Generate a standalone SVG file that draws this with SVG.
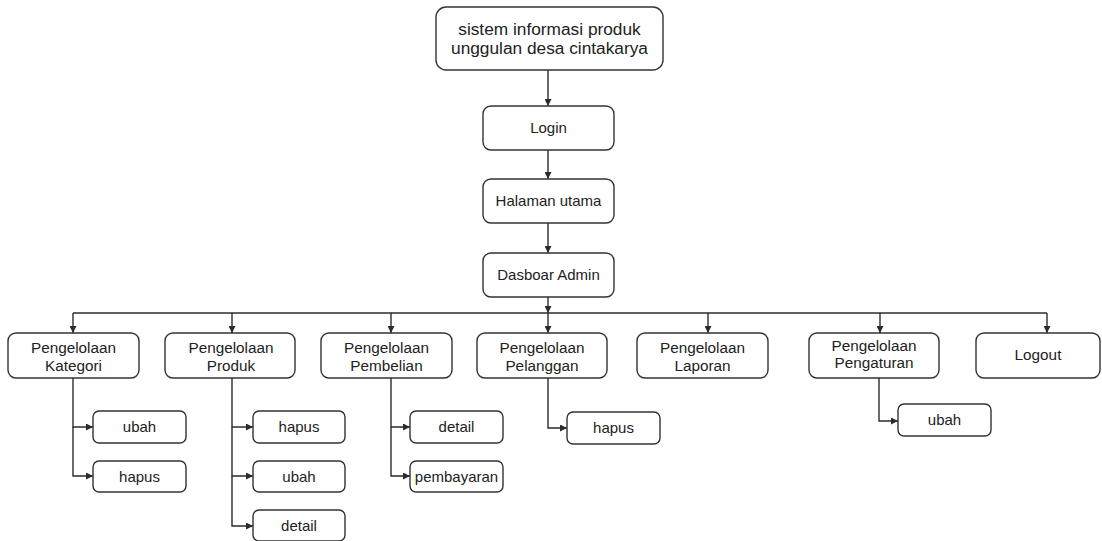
<svg xmlns="http://www.w3.org/2000/svg" width="1102" height="541" viewBox="0 0 1102 541">
  <defs>
    <marker id="arrow" viewBox="0 0 10 10" refX="10" refY="5" markerWidth="7" markerHeight="7" markerUnits="userSpaceOnUse" orient="auto">
      <path d="M0,0 L10,5 L0,10 z" fill="#2b2b2b"/>
    </marker>
    <style>
      .box { fill: #ffffff; stroke: #333333; stroke-width: 1.4; }
      .lbl { font-family: "Liberation Sans", Arial, sans-serif; font-size: 15px; fill: #222222; text-anchor: middle; }
      .big { font-size: 17.3px; }
      .mid { font-size: 15.3px; }
      .edge { fill: none; stroke: #2b2b2b; stroke-width: 1.4; marker-end: url(#arrow); }
    </style>
  </defs>
  <rect width="1102" height="541" fill="#ffffff"/>

  <!-- connectors -->
  <g id="connectors">
    <path class="edge" d="M548,70 V106"/>
    <path class="edge" d="M548,150 V179"/>
    <path class="edge" d="M548,223 V253"/>
    <path class="edge" d="M548,297 V313"/>
    <path fill="none" stroke="#2b2b2b" stroke-width="1.4" d="M73,313 H1047"/>
    <path class="edge" d="M73,313 V333"/>
    <path class="edge" d="M232,313 V333"/>
    <path class="edge" d="M391,313 V333"/>
    <path class="edge" d="M548,313 V333"/>
    <path class="edge" d="M708,313 V333"/>
    <path class="edge" d="M880,313 V333"/>
    <path class="edge" d="M1047,313 V333"/>
    <!-- Kategori children -->
    <path class="edge" d="M73,378 V427 H93"/>
    <path class="edge" d="M73,427 V476 H93"/>
    <!-- Produk children -->
    <path class="edge" d="M232,378 V427 H253"/>
    <path class="edge" d="M232,427 V476 H253"/>
    <path class="edge" d="M232,476 V526 H253"/>
    <!-- Pembelian children -->
    <path class="edge" d="M391,378 V427 H410"/>
    <path class="edge" d="M391,427 V476 H410"/>
    <!-- Pelanggan child -->
    <path class="edge" d="M548,378 V428 H567"/>
    <!-- Pengaturan child -->
    <path class="edge" d="M879,378 V421 H898"/>
  </g>

  <g id="root">
    <rect class="box" x="436" y="7" width="227" height="63" rx="10"/>
    <text class="lbl big" x="549.5" y="34.5">sistem informasi produk</text>
    <text class="lbl big" x="549.5" y="53.5">unggulan desa cintakarya</text>
  </g>
  <g id="login">
    <rect class="box" x="483" y="106" width="131" height="44" rx="8"/>
    <text class="lbl" x="548.5" y="133">Login</text>
  </g>
  <g id="halaman-utama">
    <rect class="box" x="483" y="179" width="131" height="44" rx="8"/>
    <text class="lbl" x="548.5" y="206">Halaman utama</text>
  </g>
  <g id="dasboar-admin">
    <rect class="box" x="483" y="253" width="131" height="44" rx="8"/>
    <text class="lbl" x="548.5" y="280">Dasboar Admin</text>
  </g>

  <g id="kategori">
    <rect class="box" x="8" y="333" width="131" height="45" rx="8"/>
    <text class="lbl mid" x="73.5" y="353">Pengelolaan</text>
    <text class="lbl mid" x="73.5" y="371">Kategori</text>
  </g>
  <g id="produk">
    <rect class="box" x="165" y="333" width="130" height="45" rx="8"/>
    <text class="lbl mid" x="231" y="353">Pengelolaan</text>
    <text class="lbl mid" x="231" y="371">Produk</text>
  </g>
  <g id="pembelian">
    <rect class="box" x="321" y="333" width="131" height="45" rx="8"/>
    <text class="lbl mid" x="386.5" y="353">Pengelolaan</text>
    <text class="lbl mid" x="386.5" y="371">Pembelian</text>
  </g>
  <g id="pelanggan">
    <rect class="box" x="477" y="333" width="130" height="45" rx="8"/>
    <text class="lbl mid" x="542" y="353">Pengelolaan</text>
    <text class="lbl mid" x="542" y="371">Pelanggan</text>
  </g>
  <g id="laporan">
    <rect class="box" x="637" y="333" width="131" height="45" rx="8"/>
    <text class="lbl mid" x="702.5" y="353">Pengelolaan</text>
    <text class="lbl mid" x="702.5" y="371">Laporan</text>
  </g>
  <g id="pengaturan">
    <rect class="box" x="809" y="333" width="130" height="45" rx="8"/>
    <text class="lbl mid" x="874" y="351">Pengelolaan</text>
    <text class="lbl mid" x="874" y="368">Pengaturan</text>
  </g>
  <g id="logout">
    <rect class="box" x="976" y="333" width="124" height="45" rx="8"/>
    <text class="lbl mid" x="1038" y="360">Logout</text>
  </g>

  <g id="kategori-ubah">
    <rect class="box" x="93" y="411" width="93" height="32" rx="6"/>
    <text class="lbl" x="139.5" y="432">ubah</text>
  </g>
  <g id="kategori-hapus">
    <rect class="box" x="93" y="461" width="93" height="31" rx="6"/>
    <text class="lbl" x="139.5" y="482">hapus</text>
  </g>
  <g id="produk-hapus">
    <rect class="box" x="253" y="411" width="92" height="32" rx="6"/>
    <text class="lbl" x="299" y="432">hapus</text>
  </g>
  <g id="produk-ubah">
    <rect class="box" x="253" y="461" width="92" height="31" rx="6"/>
    <text class="lbl" x="299" y="482">ubah</text>
  </g>
  <g id="produk-detail">
    <rect class="box" x="253" y="510" width="92" height="31" rx="6"/>
    <text class="lbl" x="299" y="531">detail</text>
  </g>
  <g id="pembelian-detail">
    <rect class="box" x="410" y="411" width="93" height="32" rx="6"/>
    <text class="lbl" x="456.5" y="432">detail</text>
  </g>
  <g id="pembelian-pembayaran">
    <rect class="box" x="410" y="461" width="93" height="31" rx="6"/>
    <text class="lbl" x="456.5" y="482">pembayaran</text>
  </g>
  <g id="pelanggan-hapus">
    <rect class="box" x="567" y="412" width="93" height="32" rx="6"/>
    <text class="lbl" x="613.5" y="433">hapus</text>
  </g>
  <g id="pengaturan-ubah">
    <rect class="box" x="898" y="404" width="93" height="32" rx="6"/>
    <text class="lbl" x="944.5" y="425">ubah</text>
  </g>
</svg>
